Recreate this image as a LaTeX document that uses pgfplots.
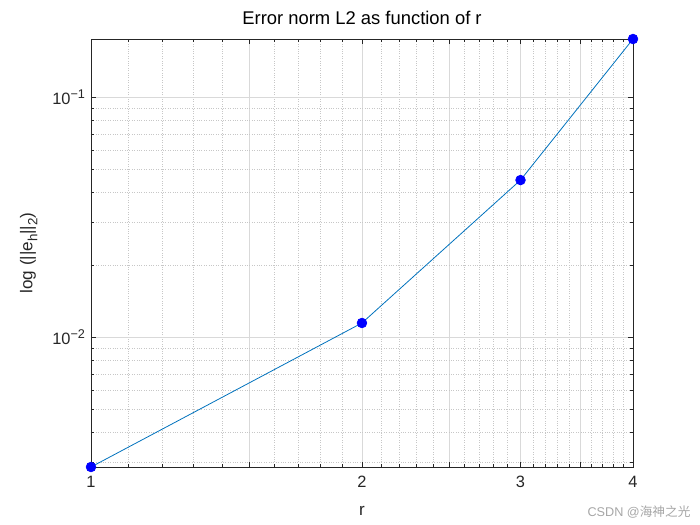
\documentclass[border=0pt]{standalone}
\usepackage{pgfplots}
\pgfplotsset{compat=1.18}
\usepackage{fontspec}
\setmainfont{Liberation Sans}
\newfontfamily\cjk{Noto Sans CJK SC}
\definecolor{mblue}{rgb}{0,0.447,0.741}
\definecolor{mtext}{rgb}{0.15,0.15,0.15}
\newcommand{\msup}[1]{\raisebox{0.75ex}{\fontsize{9.5}{10}\selectfont #1}}
\newcommand{\msub}[1]{\raisebox{-0.55ex}{\fontsize{10}{10}\selectfont #1}}
\begin{document}
\begin{tikzpicture}
\useasboundingbox (-68.25pt,-43.5pt) rectangle (456.75pt,350.25pt);
\begin{axis}[
  at={(0,0)}, anchor=south west,
  scale only axis, width=406.5pt, height=321pt,
  xmode=log, ymode=log,
  xmin=1, xmax=4, ymin=0.00288, ymax=0.175,
  xtick={1,1.5,2,2.5,3,3.5,4},
  xticklabels={1,,2,,3,,4},
  minor xtick={1.1,1.2,1.3,1.4,1.6,1.7,1.8,1.9,2.1,2.2,2.3,2.4,2.6,2.7,2.8,2.9,3.1,3.2,3.3,3.4,3.6,3.7,3.8,3.9},
  ytick={0.01,0.1},
  yticklabels={10\msup{−2},10\msup{−1}},
  minor ytick={0.003,0.004,0.005,0.006,0.007,0.008,0.009,0.02,0.03,0.04,0.05,0.06,0.07,0.08,0.09},
  grid=both,
  major grid style={line width=0.5pt, draw=black!15},
  minor grid style={line width=0.5pt, draw=black!22, dash pattern=on 0.6pt off 1.2pt},
  tick align=inside,
  major tick length=4pt,
  minor tick length=2.2pt,
  every tick/.style={line width=0.5pt, mtext},
  axis line style={line width=0.6pt, mtext},
  ticklabel style={font=\fontsize{12.3}{14}\selectfont, text=mtext},
  xticklabel style={yshift=-3pt},
  yticklabel style={xshift=-1pt},
  title={Error norm L2 as function of r},
  title style={font=\fontsize{13.8}{16}\selectfont, text=black, at={([yshift=5pt]axis description cs:0.5,1)}, anchor=base},
  xlabel={r},
  xlabel style={font=\fontsize{12.8}{15}\selectfont, text=mtext, at={([yshift=-36pt]axis description cs:0.5,0)}, anchor=base},
  ylabel={log (||e\msub{h}||\msub{2})},
  ylabel style={font=\fontsize{12.8}{15}\selectfont, text=mtext, at={([xshift=-44pt]axis description cs:0,0.5)}, anchor=base},
  clip=false,
]
\addplot[mblue, line width=0.6pt, mark=*, mark size=3.6pt, mark options={fill=blue, draw=blue}]
  coordinates {(1,0.00288) (2,0.01147) (3,0.0452) (4,0.175)};
\end{axis}
\node[anchor=base, text=black!35, font=\fontsize{9.5}{10}\selectfont] at (411pt,-37.5pt) {CSDN @{\cjk 海神之光}};
\end{tikzpicture}
\end{document}
